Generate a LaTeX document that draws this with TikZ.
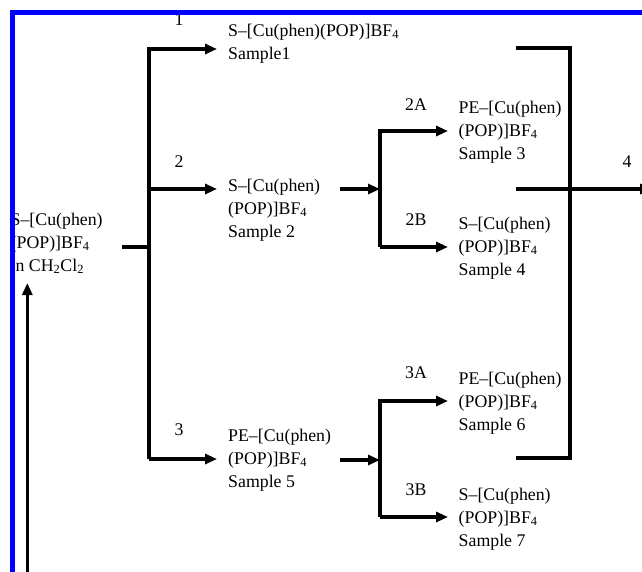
\documentclass[tikz,border=0pt]{standalone}
\usepackage{fontspec}
\setmainfont{Liberation Serif}
\usetikzlibrary{arrows.meta}
\begin{document}
\begin{tikzpicture}[x=1pt,y=-1pt,
  ln/.style={line width=3.3pt},
  arr/.style={-{Triangle[length=12pt,width=10pt]}},
  txt/.style={anchor=base west,inner sep=0pt,align=left,font=\fontsize{17.8}{23}\selectfont},
  lbl/.style={anchor=base,inner sep=0pt,font=\fontsize{17.8}{23}\selectfont}]
\useasboundingbox (0,0) rectangle (642,571);
\fill[white] (0,0) rectangle (642,571);
% texts (anchored at the baseline of the last line)
\node[txt] (src) at (10.5,271) {S--[Cu(phen)\\(POP)]BF\textsubscript{4}\\in CH\textsubscript{2}Cl\textsubscript{2}};
\node[txt] (s1) at (228,59) {S--[Cu(phen)(POP)]BF\textsubscript{4}\\Sample1};
\node[txt] (s2) at (228,237) {S--[Cu(phen)\\(POP)]BF\textsubscript{4}\\Sample 2};
\node[txt] (s5) at (228,487) {PE--[Cu(phen)\\(POP)]BF\textsubscript{4}\\Sample 5};
\node[txt] (s3) at (458.5,159) {PE--[Cu(phen)\\(POP)]BF\textsubscript{4}\\Sample 3};
\node[txt] (s4) at (458.5,275) {S--[Cu(phen)\\(POP)]BF\textsubscript{4}\\Sample 4};
\node[txt] (s6) at (458.5,430) {PE--[Cu(phen)\\(POP)]BF\textsubscript{4}\\Sample 6};
\node[txt] (s7) at (458.5,546) {S--[Cu(phen)\\(POP)]BF\textsubscript{4}\\Sample 7};
% labels
\node[lbl] (l1) at (179,25) {1};
\node[lbl] (l2) at (179,167) {2};
\node[lbl] (l3) at (179,435) {3};
\node[lbl] (l2a) at (416,110) {2A};
\node[lbl] (l2b) at (416,225) {2B};
\node[lbl] (l3a) at (416,378) {3A};
\node[lbl] (l3b) at (416,495) {3B};
\node[lbl] (l4) at (627,167) {4};
% coordinates
\coordinate (in) at (122,247);
\coordinate (tj) at (149,247);
\coordinate (tb) at (149,459);
\coordinate (a1) at (217,49);
\coordinate (a2) at (217,189);
\coordinate (a3) at (217,459);
\coordinate (o2) at (340,189);
\coordinate (m2) at (380,189);
\coordinate (a2a) at (448,131);
\coordinate (a2b) at (448,247);
\coordinate (o3) at (340,460);
\coordinate (m3) at (380,460);
\coordinate (a3a) at (448,401);
\coordinate (a3b) at (448,517);
\coordinate (r1) at (516,48);
\coordinate (r2) at (516,189);
\coordinate (r3) at (516,458);
\coordinate (rx) at (570,48);
\coordinate (out) at (652,189);
\coordinate (up0) at (27.3,580);
\coordinate (up1) at (27.3,283);
% connectors
\draw[ln] (in) -- (tj);
\draw[ln,arr] (tb) |- (a1);
\draw[ln,arr] (tb) -- (a3);
\draw[ln,arr] (a2 -| tb) -- (a2);
\draw[ln,arr] (o2) -- (m2);
\draw[ln,arr] (m2 |- a2b) |- (a2a);
\draw[ln,arr] (m2 |- a2b) -- (a2b);
\draw[ln,arr] (o3) -- (m3);
\draw[ln,arr] (m3 |- a3b) |- (a3a);
\draw[ln,arr] (m3 |- a3b) -- (a3b);
\draw[ln] (r1) -| (rx |- r3) -- (r3);
\draw[ln,arr] (r2) -- (out);
\draw[ln,arr] (up0) -- (up1);
% frame
\draw[line width=4.6pt,color={rgb,255:red,0;green,0;blue,255}] (660,12.3) -- (12.2,12.3) -- (12.2,590);
\end{tikzpicture}
\end{document}
